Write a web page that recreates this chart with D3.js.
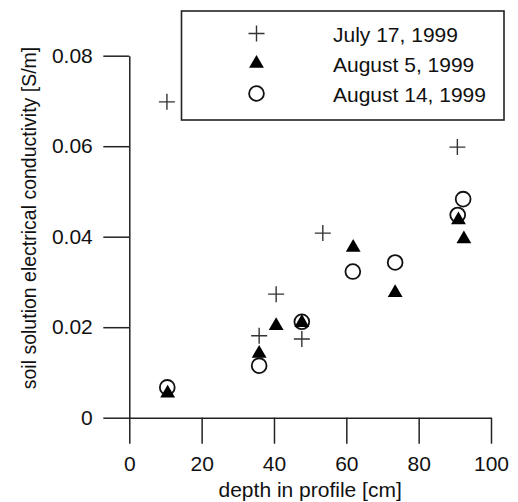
<!DOCTYPE html>
<html>
<head>
<meta charset="utf-8">
<script src="https://cdn.jsdelivr.net/npm/d3@7"></script>
<style>
  body { margin: 0; background: #fff; }
  text { font-family: "Liberation Sans", Arial, Helvetica, sans-serif; }
</style>
</head>
<body>
<div id="root"></div>
<script>
// data: depth [cm], conductivity [S/m]
const julyDepth = [10.4, 35.9, 40.6, 47.7, 53.5, 90.7];
const julyValue = [0.0698, 0.0181, 0.0273, 0.0174, 0.0408, 0.0598];

const aug5Depth = [10.6, 35.9, 40.6, 47.7, 61.9, 73.5, 91.0, 92.5];
const aug5Value = [0.0054, 0.0142, 0.0203, 0.0210, 0.0376, 0.0276, 0.0437, 0.0395];

const aug14Depth = [10.5, 35.9, 47.7, 61.8, 73.5, 90.8, 92.3];
const aug14Value = [0.0067, 0.0115, 0.0212, 0.0323, 0.0343, 0.0448, 0.0483];

const seriesNames = ["July 17, 1999", "August 5, 1999", "August 14, 1999"];
const xTicks = [0, 20, 40, 60, 80, 100];
const yTicks = [0, 0.02, 0.04, 0.06, 0.08];

const width = 518, height = 502;
const ink = "#222";

const svg = d3.select("#root").append("svg")
  .attr("width", width)
  .attr("height", height);

let x = d3.scaleLinear().domain([0, 100]).range([129.3, 491]);
let y = d3.scaleLinear().domain([0, 0.08]).range([417.7, 55.7]);

// axes (ticks outward, crossing at origin)
let yAxis = d3.axisLeft(y)
  .tickValues(yTicks)
  .tickSize(26)
  .tickSizeOuter(0)
  .tickPadding(10.5)
  .tickFormat(d => (d === 0 ? "0" : d3.format(".2f")(d)));

let xAxis = d3.axisBottom(x)
  .tickValues(xTicks)
  .tickSize(26)
  .tickSizeOuter(0)
  .tickPadding(12.5)
  .tickFormat(d3.format("d"));

function styleAxis(g) {
  g.selectAll("path, line").attr("stroke", ink).attr("stroke-width", 1.5);
  g.selectAll("text").attr("fill", "#111").style("font-size", "21px");
}

svg.append("g")
  .attr("transform", `translate(${x(0)},0)`)
  .call(yAxis)
  .call(styleAxis);

svg.append("g")
  .attr("transform", `translate(0,${y(0)})`)
  .call(xAxis)
  .call(styleAxis);

// axis titles
svg.append("text")
  .attr("x", (x(0) + x(100)) / 2)
  .attr("y", 497)
  .attr("text-anchor", "middle")
  .style("font-size", "21px")
  .attr("fill", "#111")
  .text("depth in profile [cm]");

svg.append("text")
  .attr("transform", "translate(35.5,218) rotate(-90)")
  .attr("text-anchor", "middle")
  .style("font-size", "19.5px")
  .attr("fill", "#111")
  .text("soil solution electrical conductivity [S/m]");

// markers
const triPath = d3.symbol().type(d3.symbolTriangle).size(95)();

function plus(sel) {
  sel.append("path")
    .attr("d", "M-8,0H8M0,-8V8")
    .attr("stroke", "#333")
    .attr("stroke-width", 1.4)
    .attr("fill", "none");
}
function circle(sel) {
  sel.append("circle")
    .attr("r", 7.4)
    .attr("fill", "none")
    .attr("stroke", "#111")
    .attr("stroke-width", 1.8);
}
function triangle(sel) {
  sel.append("path").attr("d", triPath).attr("fill", "#000");
}

const pts = (ds, vs) => ds.map((d, i) => ({ d: d, v: vs[i] }));

svg.append("g").selectAll("g")
  .data(pts(julyDepth, julyValue))
  .enter().append("g")
  .attr("transform", p => `translate(${x(p.d)},${y(p.v)})`)
  .call(plus);

svg.append("g").selectAll("g")
  .data(pts(aug14Depth, aug14Value))
  .enter().append("g")
  .attr("transform", p => `translate(${x(p.d)},${y(p.v)})`)
  .call(circle);

svg.append("g").selectAll("g")
  .data(pts(aug5Depth, aug5Value))
  .enter().append("g")
  .attr("transform", p => `translate(${x(p.d)},${y(p.v)})`)
  .call(triangle);

// legend
let legend = svg.append("g");
legend.append("rect")
  .attr("x", 181.5).attr("y", 11)
  .attr("width", 322.5).attr("height", 109)
  .attr("fill", "#fff")
  .attr("stroke", ink)
  .attr("stroke-width", 1.6);

const markers = [plus, triangle, circle];
seriesNames.forEach((name, i) => {
  let row = legend.append("g").attr("transform", `translate(0,${33.5 + i * 30})`);
  row.append("g").attr("transform", "translate(256.5,0)").call(markers[i]);
  row.append("text")
    .attr("x", 333)
    .attr("y", 8)
    .style("font-size", "21px")
    .attr("fill", "#111")
    .text(name);
});
</script>
</body>
</html>
